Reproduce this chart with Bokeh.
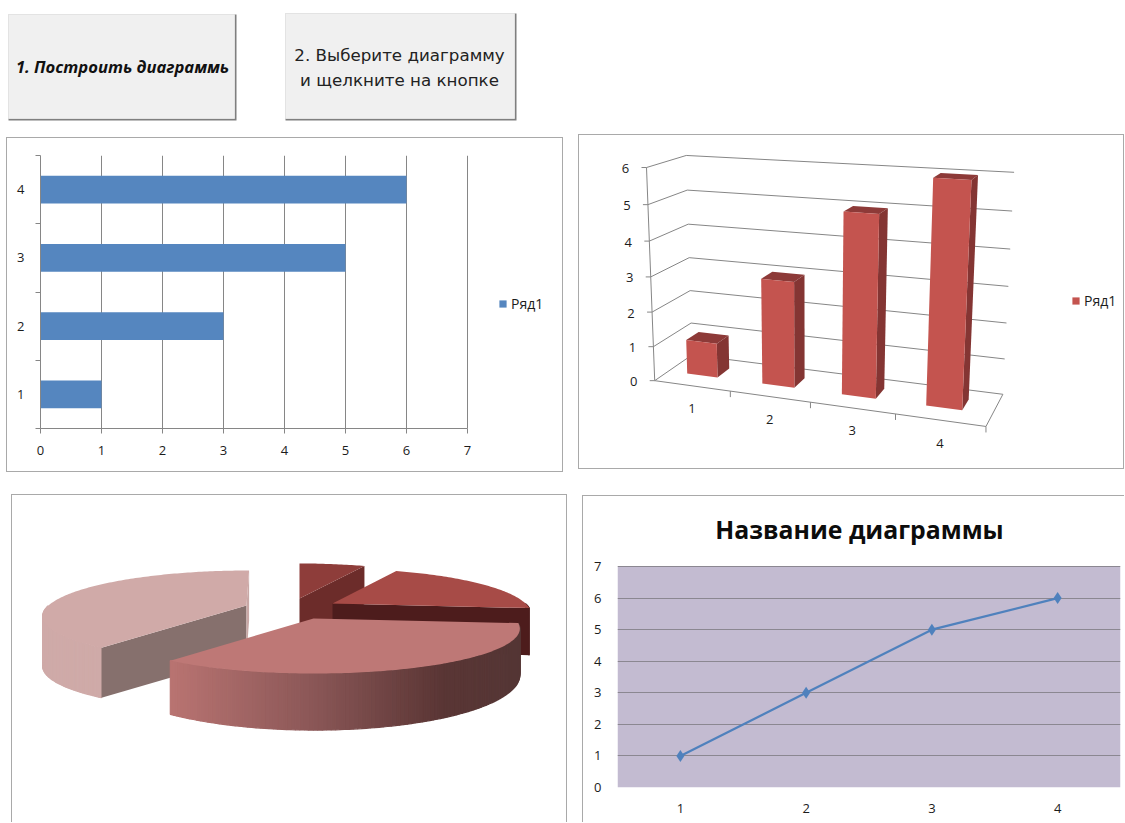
import numpy as np
from bokeh.core.properties import value
from bokeh.embed import file_html
from bokeh.layouts import column, row
from bokeh.models import BoxAnnotation, FixedTicker, Label, Legend, LegendItem, Range1d
from bokeh.plotting import figure
from bokeh.resources import INLINE

# Series shared by all four charts
categories = [1, 2, 3, 4]
series_values = [1, 3, 5, 6]
series_name = "Ряд1"
chart_title = "Название диаграммы"
button_one = "1. Построить диаграммь"
button_two = ["2. Выберите диаграмму", "и щелкните на кнопке"]
bar_ticks = [0, 1, 2, 3, 4, 5, 6, 7]
column_ticks = [0, 1, 2, 3, 4, 5, 6]
line_ticks = [0, 1, 2, 3, 4, 5, 6, 7]

FONT = "Open Sans"
GRID = "#868686"
PANEL = "1px solid #a9a9a9"
TEXT = "#1c1c1c"
TICK_SIZE = "13px"
LEGEND_SIZE = "14px"


def bare(width, height, xr, yr, margin, styles):
    p = figure(width=width, height=height, x_range=xr, y_range=yr, output_backend="svg",
               toolbar_location=None, min_border=0, margin=margin, styles=styles)
    p.axis.visible = False
    p.grid.visible = False
    p.outline_line_color = None
    return p


def style_axis(ax, standoff):
    ax.major_label_text_font = FONT
    ax.major_label_text_font_size = TICK_SIZE
    ax.major_label_text_color = TEXT
    ax.major_label_standoff = standoff
    ax.axis_line_color = GRID
    ax.major_tick_line_color = GRID
    ax.minor_tick_line_color = GRID


# ---------- buttons ----------
top = bare(1125, 134, Range1d(0, 1125), Range1d(134, 0), (0, 0, 0, 0), {})
btn_l, btn_r, btn_t, btn_b = [8, 285], [236, 516], [14, 13], [120, 120]
top.quad(left=btn_l, right=btn_r, top=btn_t, bottom=btn_b, fill_color="#7f7f7f", line_color=None)
top.quad(left=btn_l, right=[v - 2 for v in btn_r], top=btn_t, bottom=[v - 2 for v in btn_b],
         fill_color="#f0f0f0", line_color="#e3e3e3")
top.text(x=[122], y=[66], text=[button_one], text_align="center", text_baseline="middle",
         text_font=value("Open Sans"), text_font_size="16.6px", text_font_style="bold italic",
         text_color="#111111")
top.text(x=[399, 399], y=[54, 79], text=button_two, text_align="center", text_baseline="middle",
         text_font=value("DejaVu Sans"), text_font_size="16.7px", text_color="#222222")

# ---------- horizontal bars ----------
# The frame runs on past the last tick to leave room for the legend
bar_frame_end = 7 * 520 / 427
bar = figure(width=557, height=335, x_range=Range1d(0, bar_frame_end), y_range=Range1d(0.5, 4.5),
             output_backend="svg", toolbar_location=None, min_border_left=33, min_border_right=4,
             min_border_top=17, min_border_bottom=45, margin=(3, 0, 0, 6),
             styles={"border": PANEL, "box-sizing": "border-box"})
bar.outline_line_color = None
bars = bar.hbar(y=categories, right=series_values, left=0, height=0.41, fill_color="#5586bf",
                line_color=None)
bar.ygrid.visible = False
bar.xgrid.grid_line_color = GRID
bar.xgrid.ticker = FixedTicker(ticks=bar_ticks)
bar.xaxis.ticker = FixedTicker(ticks=bar_ticks)
bar.xaxis.bounds = (0, 7)
bar.xaxis.major_tick_out = 5
bar.xaxis.major_tick_in = 0
bar.xaxis.minor_tick_out = 0
bar.xaxis.minor_tick_in = 0
bar.yaxis.ticker = FixedTicker(ticks=categories, minor_ticks=[c - 0.5 for c in categories] + [4.5])
bar.yaxis.major_tick_out = 0
bar.yaxis.major_tick_in = 0
bar.yaxis.minor_tick_out = 5
bar.yaxis.minor_tick_in = 0
style_axis(bar.xaxis[0], 12)
style_axis(bar.yaxis[0], 11)
bar_legend = Legend(items=[LegendItem(label=series_name, renderers=[bars])], location=(458, 115),
                    border_line_color=None, background_fill_alpha=0, padding=0, margin=0,
                    glyph_width=9, glyph_height=9, label_text_font=FONT, label_text_font_size=LEGEND_SIZE,
                    label_text_color=TEXT, label_standoff=4)
bar.add_layout(bar_legend, "center")

# ---------- perspective columns ----------
# Camera fitted to the box of the chart: (category, value, depth) -> drawing position
box_points = [
    ((0, 6, 0), (644, 167)), ((0, 5, 0), (647, 203)), ((0, 4, 0), (650, 240)), ((0, 3, 0), (651.5, 276)),
    ((0, 2, 0), (653, 311)), ((0, 1, 0), (653, 343)), ((0, 0, 0), (655, 378)),
    ((0, 6, 1), (686.5, 155)), ((0, 5, 1), (686.5, 190)), ((0, 4, 1), (688, 224)), ((0, 3, 1), (688, 258)),
    ((0, 2, 1), (689, 291)), ((0, 1, 1), (690, 323)), ((0, 0, 1), (691, 354)),
    ((4, 6, 1), (1013.4, 172.7)), ((4, 5, 1), (1011.7, 211)), ((4, 4, 1), (1010, 248.7)),
    ((4, 3, 1), (1008, 285.7)), ((4, 2, 1), (1006.4, 322)), ((4, 1, 1), (1004.7, 357)), ((4, 0, 1), (1003, 391.7)),
    ((1, 0, 0), (730, 395)), ((2, 0, 0), (809, 405)), ((3, 0, 0), (894, 416)), ((4, 0, 0), (984.7, 424)),
]
rows_a, rows_b = [], []
for (t, v, d), (sx, sy) in box_points:
    rows_a.append([t, v, d, 1, 0, 0, 0, 0, -sx * t, -sx * v, -sx * d])
    rows_a.append([0, 0, 0, 0, t, v, d, 1, -sy * t, -sy * v, -sy * d])
    rows_b += [sx, sy]
cam = np.linalg.lstsq(np.array(rows_a, float), np.array(rows_b, float), rcond=None)[0]


def project(t, v, d):
    w = cam[8] * t + cam[9] * v + cam[10] * d + 1
    return ((cam[0] * t + cam[1] * v + cam[2] * d + cam[3]) / w,
            (cam[4] * t + cam[5] * v + cam[6] * d + cam[7]) / w)


col = bare(546, 335, Range1d(579, 1125), Range1d(470, 135), (0, 0, 0, 15),
           {"border": PANEL, "box-sizing": "border-box"})
lines_x, lines_y = [], []


def seg(a, b):
    pa, pb = project(*a), project(*b)
    lines_x.append([pa[0], pb[0]])
    lines_y.append([pa[1], pb[1]])


for v in column_ticks:
    seg((0, v, 0), (0, v, 1))
    seg((0, v, 1), (4, v, 1))
    fx, fy = project(0, v, 0)
    lines_x.append([fx - 5, fx])
    lines_y.append([fy, fy])
seg((0, 0, 0), (0, 6, 0))
seg((0, 0, 0), (4, 0, 0))
seg((4, 0, 0), (4, 0, 1))
for c in categories:
    fx, fy = project(c, 0, 0)
    lines_x.append([fx, fx])
    lines_y.append([fy, fy + 6])
col.multi_line(lines_x, lines_y, line_color=GRID, line_width=1)

HALF, D0, D1, SHIFT = 0.205, 0.36, 0.70, 0.54
front_r = None
for c, val in zip(categories, series_values):
    t0, t1 = c - SHIFT - HALF, c - SHIFT + HALF
    corners = {
        "top": [(t0, val, D0), (t0, val, D1), (t1, val, D1), (t1, val, D0)],
        "side": [(t1, 0, D0), (t1, val, D0), (t1, val, D1), (t1, 0, D1)],
        "front": [(t0, 0, D0), (t0, val, D0), (t1, val, D0), (t1, 0, D0)],
    }
    for face, colour in (("top", "#8d3a38"), ("side", "#843533"), ("front", "#c4544f")):
        pts = [project(*q) for q in corners[face]]
        r = col.patch([q[0] for q in pts], [q[1] for q in pts], fill_color=colour, line_color=None)
        if face == "front" and front_r is None:
            front_r = r

lab_x, lab_y, lab_t = [], [], []
for v in column_ticks:
    fx, fy = project(0, v, 0)
    lab_x.append(fx - 21)
    lab_y.append(fy + 1)
    lab_t.append(str(v))
for c in categories:
    fx, fy = project(c - 0.5, 0, 0)
    lab_x.append(fx)
    lab_y.append(fy + 23)
    lab_t.append(str(c))
col.text(lab_x, lab_y, text=lab_t, text_align="center", text_baseline="middle",
         text_font=value(FONT), text_font_size=TICK_SIZE, text_color=TEXT)
col_legend = Legend(items=[LegendItem(label=series_name, renderers=[front_r])], location=(492, 160),
                    border_line_color=None, background_fill_alpha=0, padding=0, margin=0,
                    glyph_width=9, glyph_height=9, label_text_font=FONT, label_text_font_size=LEGEND_SIZE,
                    label_text_color=TEXT, label_standoff=4)
col.add_layout(col_legend, "center")

# ---------- exploded perspective pie ----------
pie = bare(556, 328, Range1d(12, 568), Range1d(823, 495), (22, 0, 0, 11),
           {"border-top": PANEL, "border-left": PANEL, "border-right": PANEL, "box-sizing": "border-box"})
RY, PERSP, VANISH_X, LEAN = 42.8, 0.222, 299, 0.06
slice_apex = [(299, 598), (332, 603), (313, 618), (246, 605)]
slice_rx = [192, 193, 201, 198]
slice_depth = [46, 46, 44, 50]
depth_bend = [1, 1, 1, 0]
slice_top = ["#8e3d3a", "#a74b47", "#be7876", "#d0aaa8"]
slice_wall = ["#6c2c2a", "#4d1c1c", "#553636", "#cfaaa8"]
# Cut faces seen from the viewer: which edge of the slice and its colour
cut_faces = {0: [("end", "#6c2c2a")], 1: [("end", "#4d1c1c")], 2: [],
             3: [("start", "#86706d"), ("end", "#c9a8a6")]}
shade_stops = [0.0, 0.4, 0.78, 1.0]
shade_rgb = np.array([[0xb9, 0x74, 0x72], [0x8c, 0x58, 0x58], [0x5a, 0x36, 0x35], [0x55, 0x36, 0x36]])

angles = 360 * np.cumsum([0] + series_values) / sum(series_values)


def rim(i, deg):
    ax, ay = slice_apex[i]
    a = np.radians(deg)
    k = 1 + PERSP * np.cos(a)
    lean = LEAN * (VANISH_X - ax) * np.cos(a)
    depth = slice_depth[i] * (1 + depth_bend[i] * (1 / k - 1))
    return ax + (slice_rx[i] * np.sin(a) + lean) / k, ay - RY * np.cos(a) / k, depth


for i in (3, 0, 1, 2):
    apex = slice_apex[i]
    a0, a1 = angles[i], angles[i + 1]
    steps = np.linspace(a0, a1, int(a1 - a0) + 2)
    pts = [rim(i, s) for s in steps]
    span = [q[0] for q in pts]
    lo, hi = min(span), max(span)
    # Outer wall, only its front half, in narrow strips so the shading runs along the rim
    for s0, s1, (xa, ya, da), (xb, yb, db) in zip(steps[:-1], steps[1:], pts[:-1], pts[1:]):
        if np.cos(np.radians((s0 + s1) / 2)) > 0:
            continue
        colour = slice_wall[i]
        if i == 2:
            f = ((xa + xb) / 2 - lo) / (hi - lo)
            colour = "#%02x%02x%02x" % tuple(int(np.interp(f, shade_stops, shade_rgb[:, ch])) for ch in range(3))
        pie.patch([xa, xb, xb, xa], [ya, yb, yb + db, ya + da], fill_color=colour,
                  line_color=colour, line_width=1.2)
    for edge, colour in cut_faces[i]:
        rx_, ry_, dp = rim(i, a0 if edge == "start" else a1)
        pie.patch([apex[0], rx_, rx_, apex[0]], [apex[1], ry_, ry_ + dp, apex[1] + slice_depth[i]],
                  fill_color=colour, line_color=None)
    pie.patch([apex[0]] + [q[0] for q in pts], [apex[1]] + [q[1] for q in pts],
              fill_color=slice_top[i], line_color=None)

# ---------- line chart ----------
# The frame reaches the top of the panel so the heading can sit inside it;
# the shaded plot area and the axis stop at the last tick.
line_frame_top = 7 * 291 / 221
line = figure(width=542, height=327, x_range=Range1d(0.5, 4.5), y_range=Range1d(0, line_frame_top),
              output_backend="svg", toolbar_location=None, min_border_left=34, min_border_right=5,
              min_border_top=0, min_border_bottom=36, margin=(23, 0, 0, 15),
              styles={"border-top": PANEL, "border-left": PANEL, "box-sizing": "border-box"})
line.add_layout(BoxAnnotation(bottom=line_ticks[0], top=line_ticks[-1], fill_color="#c3bbd1", fill_alpha=1,
                              line_color=None, level="underlay"))
line.add_layout(Label(x=2.424, y=8.2, text=chart_title, text_align="center", text_baseline="middle",
                      text_font=FONT, text_font_size="24.8px", text_font_style="bold", text_color="#0c0c0c"))
line.outline_line_color = None
line.xgrid.visible = False
line.ygrid.level = "glyph"
line.ygrid.grid_line_color = "#8b8791"
line.ygrid.grid_line_width = 1.2
line.ygrid.ticker = FixedTicker(ticks=line_ticks)
line.xaxis.ticker = FixedTicker(ticks=categories)
line.yaxis.ticker = FixedTicker(ticks=line_ticks)
style_axis(line.xaxis[0], 10)
style_axis(line.yaxis[0], 10)
for ax in (line.xaxis[0], line.yaxis[0]):
    ax.axis_line_color = None
    ax.major_tick_line_color = None
    ax.minor_tick_line_color = None
line.line(categories, series_values, line_color="#4f81bd", line_width=2.2, level="overlay")
line.scatter(categories, series_values, marker="diamond", size=12, fill_color="#4f81bd", line_color=None,
             level="overlay")

# Each chart sits in its own column so the rows keep their separate frames
page = column(top, row(column(bar), column(col)), row(column(pie), column(line)))
open("out.html", "w").write(file_html(page, INLINE))
